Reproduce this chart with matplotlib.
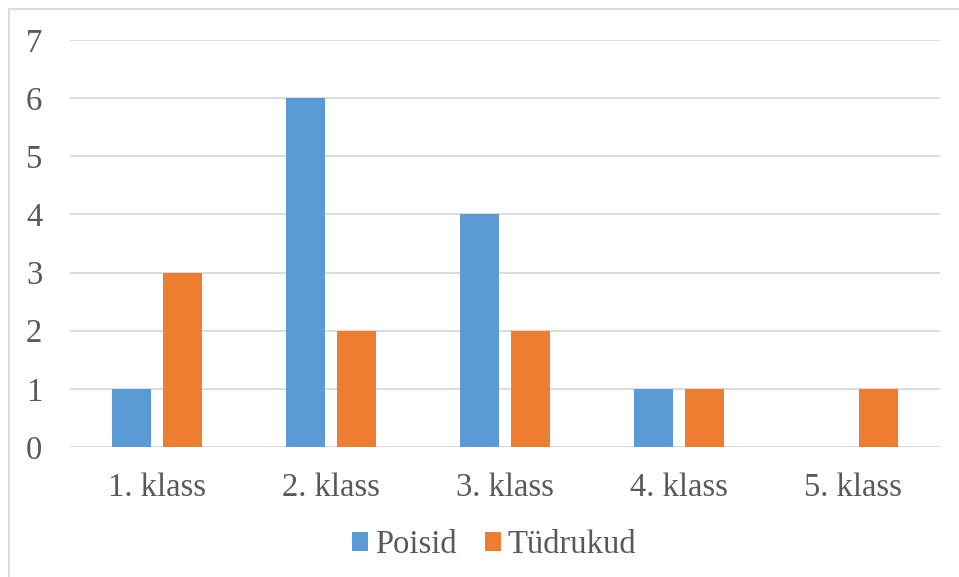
import matplotlib
matplotlib.use("Agg")
import matplotlib.pyplot as plt
from matplotlib.patches import Rectangle
import numpy as np

categories = ["1. klass", "2. klass", "3. klass", "4. klass", "5. klass"]
poisid = [1, 6, 4, 1, 0]
tudrukud = [3, 2, 2, 1, 1]
series_names = ["Poisid", "Tüdrukud"]
colors = ["#5B9BD5", "#ED7D31"]

plt.rcParams['font.family'] = ['Liberation Serif', 'DejaVu Serif']
W, H = 959, 577
fs = 23.5
fig = plt.figure(figsize=(W / 100, H / 100), dpi=100)
ax = fig.add_axes([70 / W, 1 - 447 / H, 870 / W, 407 / H])

x = np.arange(len(categories))
bw = 0.224
off = 0.145
ax.bar(x - off, poisid, width=bw, color=colors[0], label=series_names[0], zorder=3)
ax.bar(x + off, tudrukud, width=bw, color=colors[1], label=series_names[1], zorder=3)

ax.set_xlim(-0.5, len(categories) - 0.5)
ax.set_ylim(0, 7)
ax.set_yticks(range(0, 8))
ax.set_xticks(x)
ax.set_xticklabels(categories)
ax.grid(axis='y', color='#D9D9D9', linewidth=1.3, zorder=0)
for s in ax.spines.values():
    s.set_visible(False)
ax.tick_params(axis='both', length=0, labelsize=fs, colors='#595959')
ax.tick_params(axis='y', pad=20)
ax.tick_params(axis='x', pad=18)

leg = fig.legend(loc='center', bbox_to_anchor=(494 / W, 1 - 545 / H), ncol=2, frameon=False,
                 fontsize=fs, handlelength=0.49, handleheight=0.49, handletextpad=0.21,
                 columnspacing=0.86, borderpad=0, borderaxespad=0)
for t in leg.get_texts():
    t.set_color('#595959')

fig.patches.append(Rectangle((9 / W, -0.01), 1.0, 1 - 9 / H + 0.01, transform=fig.transFigure,
                             fill=False, edgecolor='#D9D9D9', linewidth=1.3))

fig.savefig("out.png", dpi=100, facecolor='white')
